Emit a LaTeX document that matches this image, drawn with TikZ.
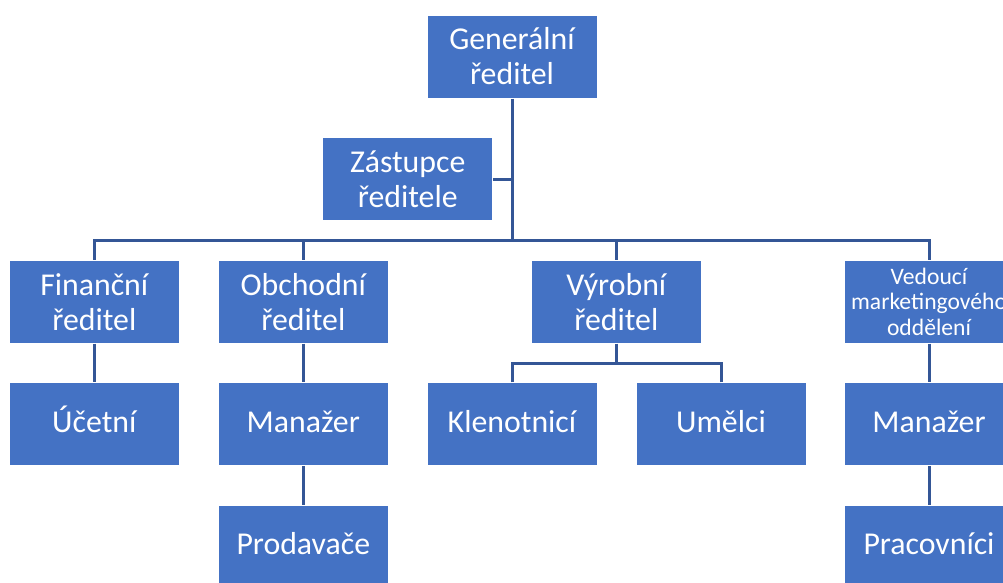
\documentclass[tikz,border=0pt]{standalone}
\usepackage{fontspec}
\setmainfont{Carlito}
\definecolor{boxblue}{RGB}{68,114,196}
\definecolor{linkblue}{RGB}{52,86,150}
\begin{document}
\begin{tikzpicture}[x=1pt,y=-1pt,
  orgbox/.style={rectangle, fill=boxblue, draw=white, line width=1pt,
    minimum width=170pt, minimum height=83pt, inner sep=2pt,
    text=white, align=center, font=\fontsize{31.8}{35}\selectfont},
  onebox/.style={orgbox, text height=22pt, text depth=6.6pt},
  smallbox/.style={orgbox, font=\fontsize{23.6}{25.5}\selectfont},
  link/.style={draw=linkblue, line width=3pt}]
\useasboundingbox (0,0) rectangle (1003,582);
\fill[white] (0,0) rectangle (1003,582);
\node[orgbox] (gen) at (512,56.5) {Generální\\ředitel};
\node[orgbox] (zas) at (407.7,179) {Zástupce\\ředitele};
\node[orgbox] (fin) at (94.3,301.7) {Finanční\\ředitel};
\node[orgbox] (obch) at (303.3,301.7) {Obchodní\\ředitel};
\node[orgbox] (vyr) at (616.3,301.7) {Výrobní\\ředitel};
\node[smallbox] (ved) at (929,301.5) {Vedoucí\\marketingového\\oddělení};
\node[onebox] (uce) at (94.3,424.3) {Účetní};
\node[onebox] (man1) at (303.3,424.3) {Manažer};
\node[onebox] (klen) at (512,424.3) {Klenotnicí};
\node[onebox] (umel) at (721,424.3) {Umělci};
\node[onebox] (man2) at (929,424.3) {Manažer};
\node[onebox] (prod) at (303.3,546.5) {Prodavače};
\node[onebox] (prac) at (929,546.5) {Pracovníci};
\coordinate (bus) at (512,240);
\coordinate (sub) at (616.3,363.3);
\draw[link] (gen.south) -- (bus);
\draw[link] (zas.east) -- (zas.east -| gen.south);
\draw[link] (fin.north) |- (bus);
\draw[link] (obch.north) |- (bus);
\draw[link] (vyr.north) |- (bus);
\draw[link] (ved.north) |- (bus);
\draw[link] (vyr.south) -- (sub);
\draw[link] (klen.north) |- (sub);
\draw[link] (umel.north) |- (sub);
\draw[link] (fin.south) -- (uce.north);
\draw[link] (obch.south) -- (man1.north);
\draw[link] (man1.south) -- (prod.north);
\draw[link] (ved.south) -- (man2.north);
\draw[link] (man2.south) -- (prac.north);
\end{tikzpicture}
\end{document}
